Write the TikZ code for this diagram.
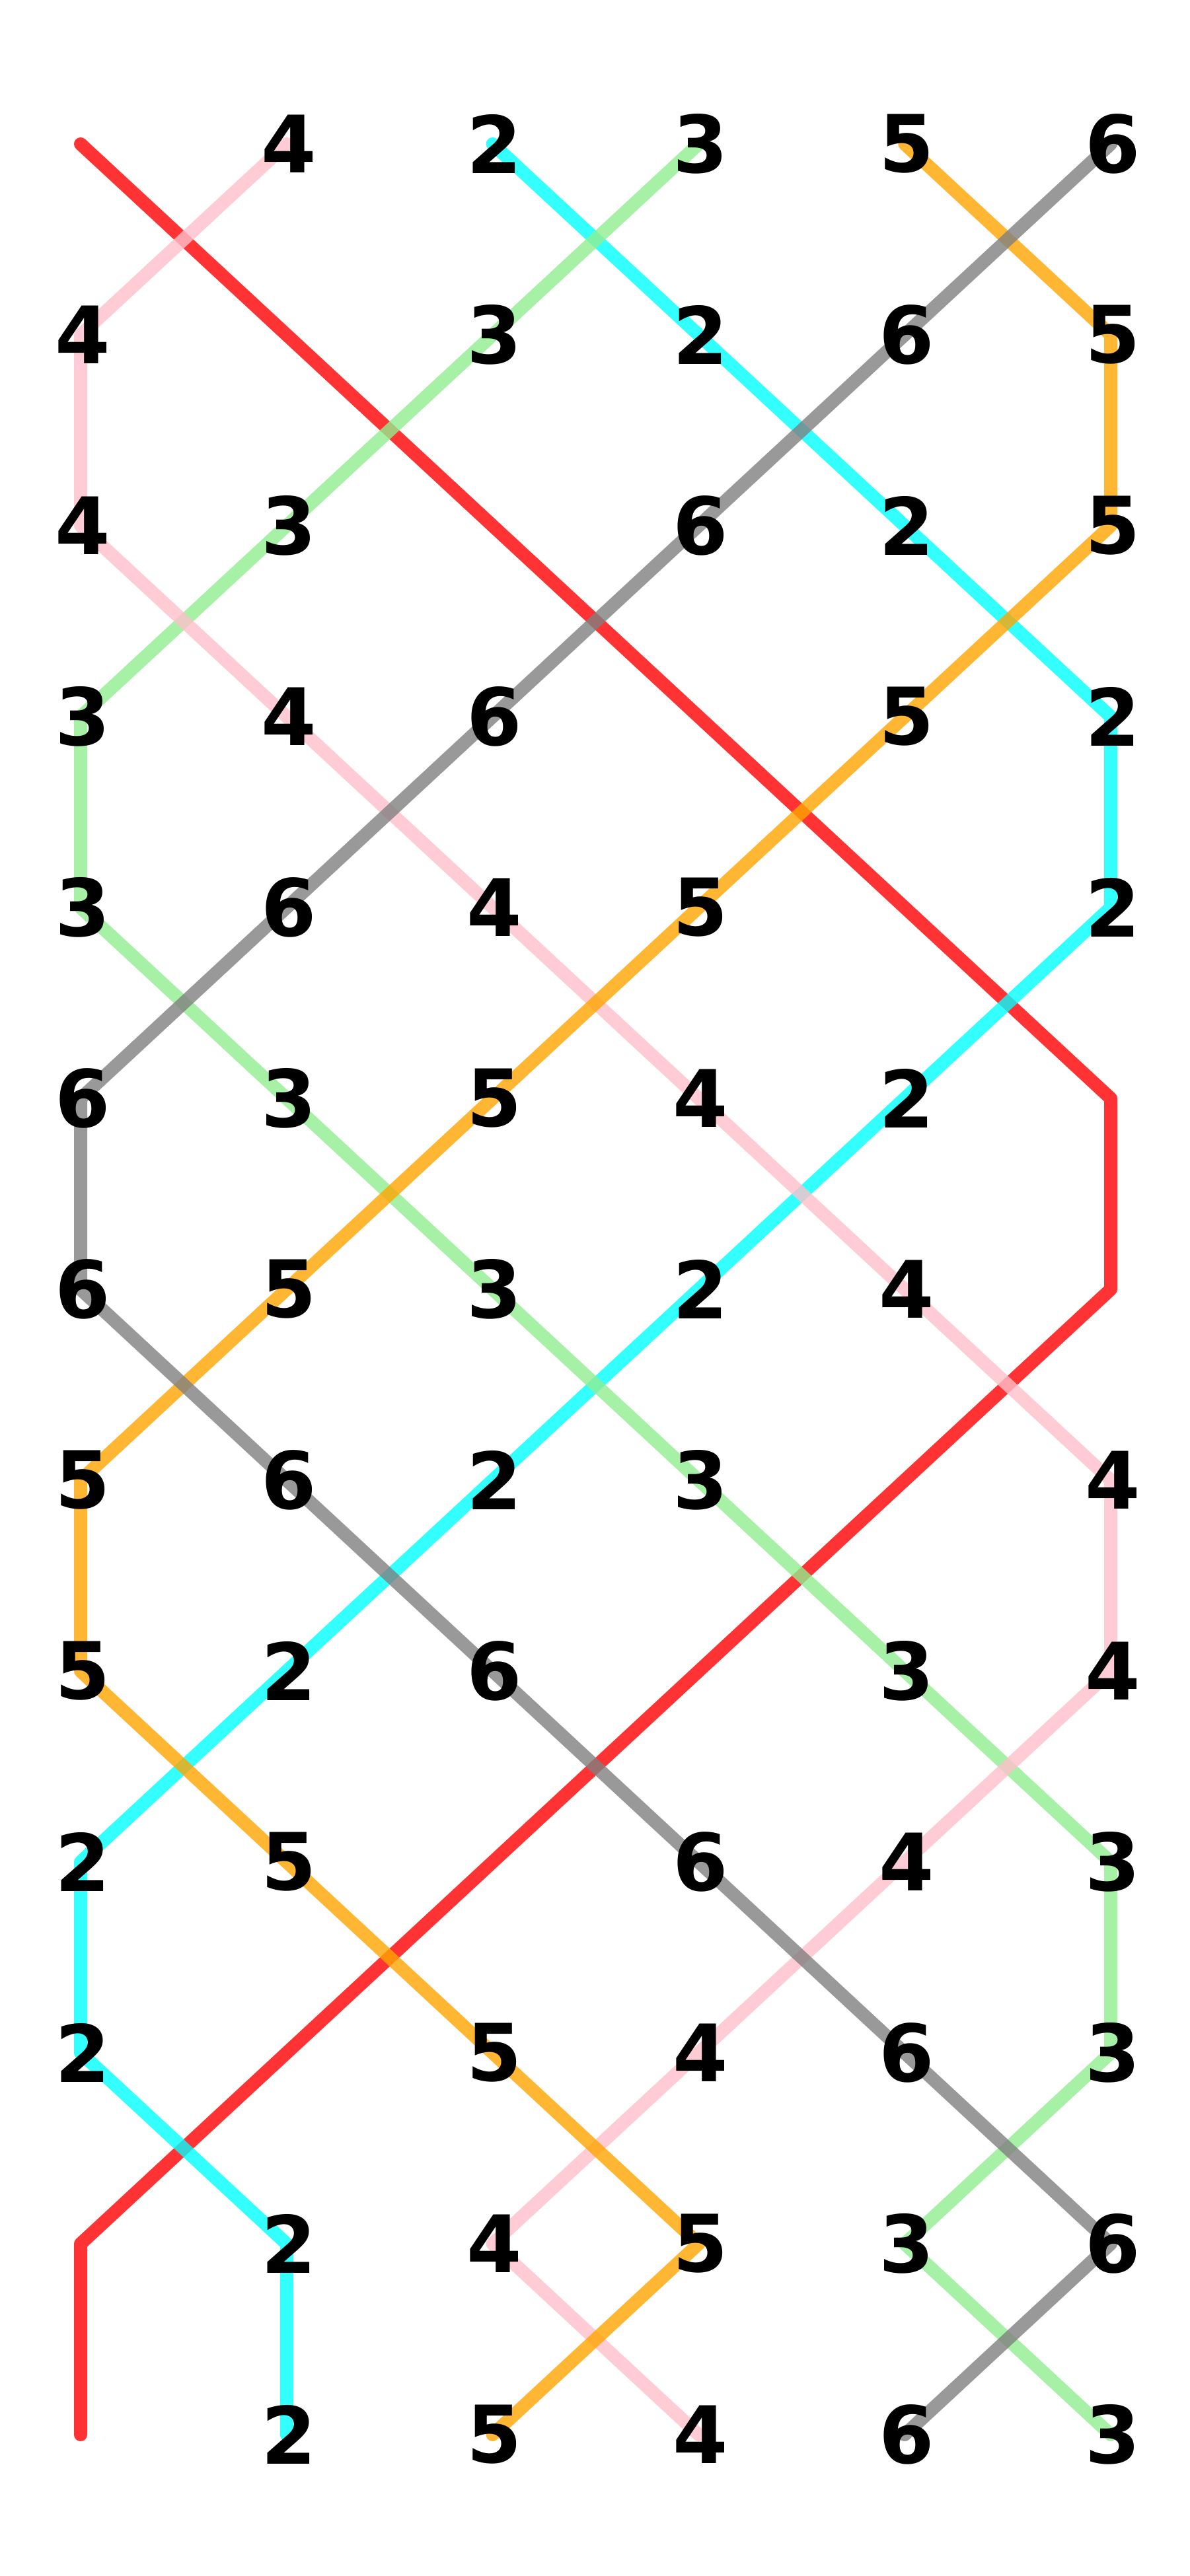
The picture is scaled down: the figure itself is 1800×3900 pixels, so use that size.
\documentclass[tikz,border=0pt]{standalone}
\usepackage{fontspec}
\setmainfont{DejaVu Sans}
\begin{document}
\begin{tikzpicture}[x=0.25pt,y=-0.25pt,
  strand/.style={line width=5pt,line cap=round,line join=round,draw opacity=0.8},
  lab/.style={inner sep=0pt,font=\fontsize{30}{30}\selectfont\bfseries,text=black,xshift=0.75pt}]
\useasboundingbox (0,0) rectangle (1800,3900);
\fill[white] (0,0) rectangle (1800,3900);
\foreach \r in {0,...,12}{
  \foreach \c in {0,...,5}{
    \coordinate (g-\r-\c) at ({122+311.8*\c},{218+289*\r});
  }
}
% value 1 (red)
\draw[strand,draw={rgb,255:red,255;green,0;blue,0}] (g-0-0)--(g-1-1)--(g-2-2)--(g-3-3)--(g-4-4)--(g-5-5)--(g-6-5)--(g-7-4)--(g-8-3)--(g-9-2)--(g-10-1)--(g-11-0)--(g-12-0);
% value 2 (cyan)
\draw[strand,draw={rgb,255:red,0;green,255;blue,255}] (g-0-2)--(g-1-3)--(g-2-4)--(g-3-5)--(g-4-5)--(g-5-4)--(g-6-3)--(g-7-2)--(g-8-1)--(g-9-0)--(g-10-0)--(g-11-1)--(g-12-1);
% value 3 (light green)
\draw[strand,draw={rgb,255:red,144;green,238;blue,144}] (g-0-3)--(g-1-2)--(g-2-1)--(g-3-0)--(g-4-0)--(g-5-1)--(g-6-2)--(g-7-3)--(g-8-4)--(g-9-5)--(g-10-5)--(g-11-4)--(g-12-5);
% value 4 (pink)
\draw[strand,draw={rgb,255:red,255;green,192;blue,203}] (g-0-1)--(g-1-0)--(g-2-0)--(g-3-1)--(g-4-2)--(g-5-3)--(g-6-4)--(g-7-5)--(g-8-5)--(g-9-4)--(g-10-3)--(g-11-2)--(g-12-3);
% value 5 (orange)
\draw[strand,draw={rgb,255:red,255;green,165;blue,0}] (g-0-4)--(g-1-5)--(g-2-5)--(g-3-4)--(g-4-3)--(g-5-2)--(g-6-1)--(g-7-0)--(g-8-0)--(g-9-1)--(g-10-2)--(g-11-3)--(g-12-2);
% value 6 (gray)
\draw[strand,draw={rgb,255:red,128;green,128;blue,128}] (g-0-5)--(g-1-4)--(g-2-3)--(g-3-2)--(g-4-1)--(g-5-0)--(g-6-0)--(g-7-1)--(g-8-2)--(g-9-3)--(g-10-4)--(g-11-5)--(g-12-4);
% labels: row / list of col:value
\foreach \r/\lst in {
  0/{1/4,2/2,3/3,4/5,5/6},
  1/{0/4,2/3,3/2,4/6,5/5},
  2/{0/4,1/3,3/6,4/2,5/5},
  3/{0/3,1/4,2/6,4/5,5/2},
  4/{0/3,1/6,2/4,3/5,5/2},
  5/{0/6,1/3,2/5,3/4,4/2},
  6/{0/6,1/5,2/3,3/2,4/4},
  7/{0/5,1/6,2/2,3/3,5/4},
  8/{0/5,1/2,2/6,4/3,5/4},
  9/{0/2,1/5,3/6,4/4,5/3},
  10/{0/2,2/5,3/4,4/6,5/3},
  11/{1/2,2/4,3/5,4/3,5/6},
  12/{1/2,2/5,3/4,4/6,5/3}}{
  \foreach \c/\v in \lst {
    \node[lab] (n-\r-\c) at (g-\r-\c) {\v};
  }
}
\end{tikzpicture}
\end{document}
